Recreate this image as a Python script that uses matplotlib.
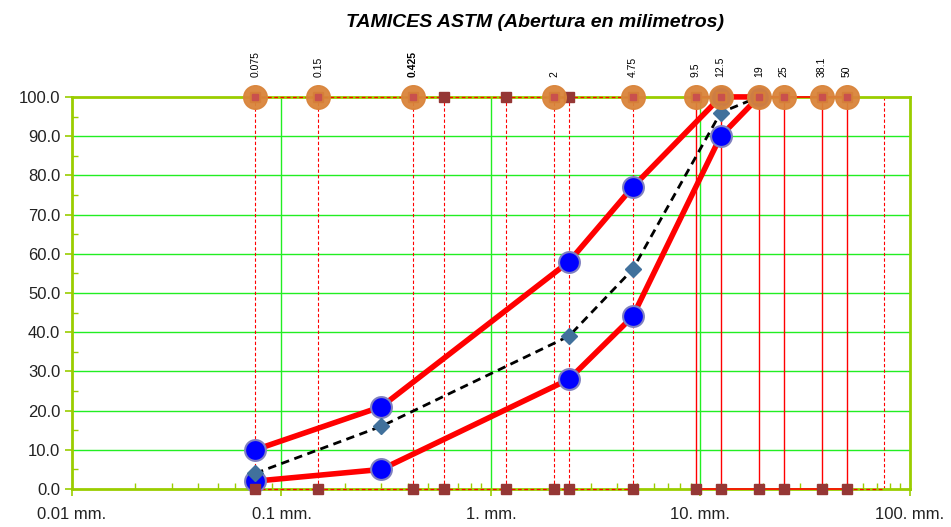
import numpy as np
import matplotlib.pyplot as plt
from matplotlib.ticker import FixedLocator, NullFormatter, LogLocator

plt.rcParams['font.family'] = ['Liberation Sans', 'DejaVu Sans']

# sieve openings (mm)
sieves = [0.075, 0.15, 0.425, 0.6, 1.18, 2, 2.36, 4.75, 9.5, 12.5, 19, 25, 38.1, 50]
extra_sieve = 75
labelled = [0.075, 0.15, 0.425, 2, 4.75, 9.5, 12.5, 19, 25, 38.1, 50]
labelled_txt = ['0.075', '0.15', '0.425', '2', '4.75', '9.5', '12.5', '19', '25', '38.1', '50']

# band limits and gradation (% passing)
band_x = [0.075, 0.3, 2.36, 4.75, 12.5, 19]
upper = [10, 21, 58, 77, 100, 100]
lower = [2, 5, 28, 44, 90, 100]
grad_x = [0.075, 0.3, 2.36, 4.75, 12.5, 19]
grad = [4, 16, 39, 56, 96, 100]

xticks = [0.01, 0.1, 1, 10, 100]
xtick_labels = ['0.01 mm.', '0.1 mm.', '1. mm.', '10. mm.', '100. mm.']
yticks = np.arange(0, 101, 10)

fig = plt.figure(figsize=(9.51, 5.27), dpi=100)
ax = fig.add_axes([0.0757, 0.0721, 0.881, 0.744])
ax.set_xscale('log')
ax.set_xlim(0.01, 100)
ax.set_ylim(0, 100)

green = '#9ACD00'
for y in yticks[1:-1]:
    ax.axhline(y, color='#22EE22', lw=1.0, zorder=1)
for x in [0.1, 1, 10]:
    ax.axvline(x, color='#22EE22', lw=1.0, zorder=1)

# vertical sieve lines
for s in sieves + [extra_sieve]:
    if 9 < s < 60:
        ax.axvline(s, color='red', lw=1.0, zorder=2)
    else:
        ax.axvline(s, color='red', lw=0.8, ls=(0, (3, 2)), zorder=2)

# horizontal lines along top and bottom
fine = [s for s in sieves if s < 9]
coarse = [s for s in sieves if s > 9]
for yv in [0, 100]:
    ax.plot(fine, [yv] * len(fine), color='red', lw=0.9, ls=(0, (3, 2)), zorder=3, clip_on=False)
    ax.plot(coarse, [yv] * len(coarse), color='red', lw=1.2, zorder=3, clip_on=False)
ax.plot([50, extra_sieve], [0, 0], color='red', lw=0.9, ls=(0, (3, 2)), zorder=3, clip_on=False)

# band limits
ax.plot(band_x, upper, color='red', lw=4, zorder=4, clip_on=False)
ax.plot(band_x, lower, color='red', lw=4, zorder=4, clip_on=False)
circ = dict(ms=15, mfc='#0000FF', mec='#8080C0', mew=1.5, zorder=6, clip_on=False, ls='none', marker='o')
ax.plot(band_x[:-1], upper[:-1], **circ)
ax.plot(band_x[:-1], lower[:-1], **circ)
ax.plot([band_x[-1]], [lower[-1]], **circ)

# gradation
ax.plot(grad_x, grad, color='black', lw=2, ls=(0, (3, 2)), zorder=5, clip_on=False)
ax.plot(grad_x[:-1], grad[:-1], 'D', ms=8, color='#41719C', zorder=6, clip_on=False)

# sieve markers
ax.plot(sieves, [0] * len(sieves), 's', ms=7, color='#953735', zorder=7, clip_on=False)
ax.plot(sieves, [100] * len(sieves), 's', ms=7, color='#953735', zorder=7, clip_on=False)
ax.plot(labelled, [100] * len(labelled), 'o', ms=17, color='#D9843A', alpha=0.95, zorder=8, clip_on=False)
ax.plot(labelled, [100] * len(labelled), 's', ms=5, color='#C9504D', zorder=9, clip_on=False)

for s, t in zip(labelled, labelled_txt):
    ax.text(s, 105, t, rotation=90, fontsize=7.5, ha='center', va='bottom',
            fontweight='bold' if t == '0.425' else 'normal')

for side in ['left', 'bottom', 'top', 'right']:
    ax.spines[side].set_color(green)
    ax.spines[side].set_linewidth(2)
    ax.spines[side].set_zorder(2.5)

ax.set_xticks(xticks)
ax.set_xticklabels(xtick_labels)
ax.xaxis.set_minor_locator(LogLocator(base=10, subs=np.arange(2, 10)))
ax.xaxis.set_minor_formatter(NullFormatter())
ax.set_yticks(yticks)
ax.set_yticklabels([f'{v:.1f}' for v in yticks])
ax.yaxis.set_minor_locator(FixedLocator(np.arange(5, 100, 10)))
ax.tick_params(axis='both', which='major', labelsize=12, color=green, length=5, width=1.2, labelcolor='#222222')
ax.tick_params(axis='x', which='minor', direction='in', color=green, length=4, width=1)
ax.tick_params(axis='y', which='minor', direction='in', color=green, length=4, width=1)
ax.tick_params(axis='x', pad=8)

fig.text(0.563, 0.958, 'TAMICES ASTM (Abertura en milimetros)', ha='center', va='center',
         fontsize=14, fontweight='bold', fontstyle='italic')

fig.savefig('out.png', dpi=100)
